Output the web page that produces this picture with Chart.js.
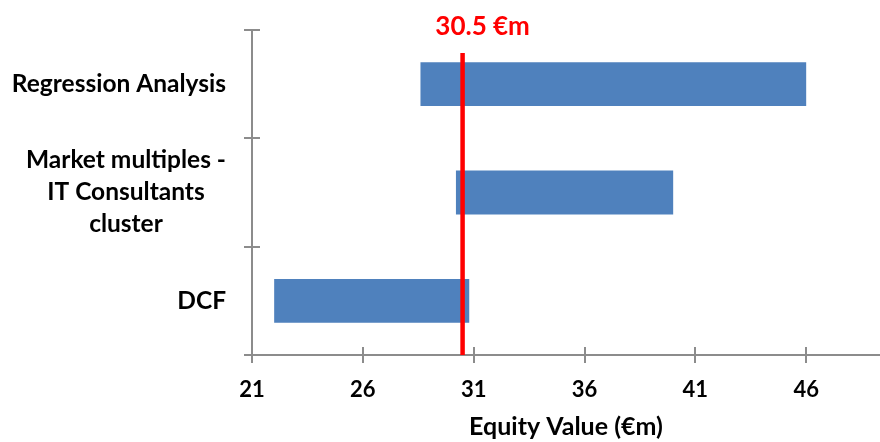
<!DOCTYPE html>
<html>
<head>
<meta charset="utf-8">
<title>Equity value ranges</title>
<script src="https://cdn.jsdelivr.net/npm/chart.js@4.4.0/dist/chart.umd.min.js"></script>
<style>
  html, body { margin: 0; padding: 0; background: #ffffff; }
  canvas { display: block; }
</style>
</head>
<body>
<canvas id="chart" width="880" height="442"></canvas>
<script>
// Valuation methods (multi-line labels) and their equity value ranges in €m
const methods = [
  ['Regression Analysis'],
  ['Market multiples -', 'IT Consultants', 'cluster'],
  ['DCF']
];
const lowValues = [28.6, 30.2, 22.0];
const highValues = [46.0, 40.0, 30.8];

// Selected point estimate, drawn as a vertical marker
const pointEstimate = 30.5;
const pointLabel = '30.5 €m';

// Value axis
const xTicks = [21, 26, 31, 36, 41, 46];
const xMin = 21;
const xMax = 49.33;
const axisTitle = 'Equity Value (€m)';

const FONT = 'Lato, "Open Sans", "DejaVu Sans", sans-serif';
const AXIS_GREY = '#8c8c8c';
const BAR_BLUE = '#4F81BD';
const MARK_RED = '#FF0000';

// Crossing tick marks, wrapped category labels and the estimate marker
const decorPlugin = {
  id: 'decor',
  afterDraw(chart) {
    const ctx = chart.ctx;
    const xs = chart.scales.x;
    const ys = chart.scales.y;
    const area = chart.chartArea;

    ctx.save();
    // tick marks crossing the axes
    ctx.strokeStyle = AXIS_GREY;
    ctx.lineWidth = 2;
    ctx.beginPath();
    xTicks.forEach(v => {
      const px = Math.round(xs.getPixelForValue(v));
      ctx.moveTo(px, area.bottom - 8);
      ctx.lineTo(px, area.bottom + 8);
    });
    for (let k = 0; k <= methods.length; k++) {
      const py = Math.round(ys.getPixelForDecimal(k / methods.length));
      ctx.moveTo(area.left - 8, py);
      ctx.lineTo(area.left + 8, py);
    }
    ctx.stroke();

    // category labels: each block centred line-by-line, block right-aligned
    ctx.fillStyle = '#000000';
    ctx.font = 'bold 24.5px ' + FONT;
    ctx.textBaseline = 'middle';
    ctx.textAlign = 'center';
    const lineGap = 32;
    methods.forEach((lines, i) => {
      const cy = ys.getPixelForValue(i);
      const w = Math.max(...lines.map(t => ctx.measureText(t).width));
      const cx = area.left - 26 - w / 2;
      lines.forEach((t, j) => {
        ctx.fillText(t, cx, cy + (j - (lines.length - 1) / 2) * lineGap);
      });
    });

    // estimate marker and its label
    const mx = xs.getPixelForValue(pointEstimate);
    ctx.strokeStyle = MARK_RED;
    ctx.lineWidth = 4.5;
    ctx.beginPath();
    ctx.moveTo(mx, area.top + 23);
    ctx.lineTo(mx, area.bottom);
    ctx.stroke();

    ctx.fillStyle = MARK_RED;
    ctx.font = 'bold 26px ' + FONT;
    ctx.textAlign = 'center';
    ctx.fillText(pointLabel, mx + 20, area.top - 3);
    ctx.restore();
  }
};

new Chart(document.getElementById('chart'), {
  type: 'bar',
  data: {
    labels: methods.map(m => m.join(' ')),
    datasets: [{
      data: lowValues.map((lo, i) => [lo, highValues[i]]),
      backgroundColor: BAR_BLUE,
      borderWidth: 0,
      barPercentage: 0.405,
      categoryPercentage: 1
    }]
  },
  options: {
    indexAxis: 'y',
    responsive: false,
    animation: false,
    layout: { padding: { top: 30, right: 0, bottom: 0, left: 0 } },
    plugins: {
      legend: { display: false },
      tooltip: { enabled: false }
    },
    scales: {
      x: {
        type: 'linear',
        min: xMin,
        max: xMax,
        afterBuildTicks: s => { s.ticks = xTicks.map(v => ({ value: v })); },
        afterFit: s => { s.height = 87; },
        grid: { display: false, drawTicks: false },
        border: { display: true, color: AXIS_GREY, width: 2 },
        ticks: {
          color: '#000000',
          font: { family: FONT, size: 22, weight: 'bold' },
          padding: 22,
          maxRotation: 0
        },
        title: {
          display: true,
          text: axisTitle,
          color: '#000000',
          font: { family: FONT, size: 25, weight: 'bold' },
          padding: { top: 0, bottom: 0 }
        }
      },
      y: {
        type: 'category',
        offset: true,
        afterFit: s => { s.width = 252; },
        grid: { display: false, drawTicks: false },
        border: { display: true, color: AXIS_GREY, width: 2 },
        ticks: { display: false }
      }
    }
  },
  plugins: [decorPlugin]
});
</script>
</body>
</html>
